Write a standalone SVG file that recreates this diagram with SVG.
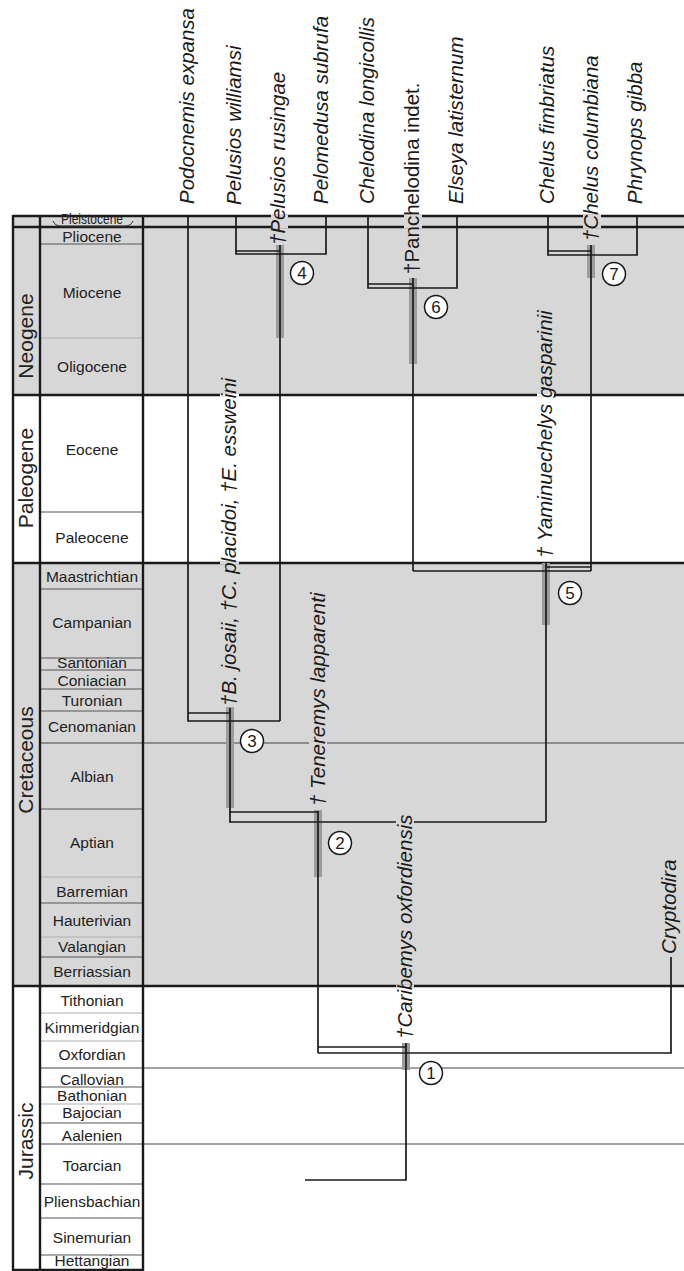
<svg xmlns="http://www.w3.org/2000/svg" width="684" height="1271" viewBox="0 0 684 1271">
<style>
.bg{fill:#d7d7d7}
.thick{stroke:#1a1a1a;stroke-width:2.4;fill:none}
.mid{stroke:#444;stroke-width:1.2;fill:none}
.stg{stroke:#555;stroke-width:1;fill:none}
.faint{stroke:#b0b0b0;stroke-width:1;fill:none}
.bar{fill:#9c9c9c}
.br{stroke:#1a1a1a;stroke-width:1.7;fill:none}
.sp{font-family:"Liberation Sans",Arial,sans-serif;font-style:italic;font-size:20.5px;fill:#1a1a1a}
.st{font-family:"Liberation Sans",Arial,sans-serif;font-size:15.5px;text-anchor:middle;fill:#222}
.per{font-family:"Liberation Sans",Arial,sans-serif;font-size:21px;text-anchor:middle;fill:#222}
.nc{fill:#fff;stroke:#1a1a1a;stroke-width:1.5}
.nt{font-family:"Liberation Sans",Arial,sans-serif;font-size:17px;text-anchor:middle;fill:#1a1a1a}
</style>

<g id="timescale">
  <rect class="bg" x="13" y="216" width="671" height="179"/>
  <rect class="bg" x="13" y="563" width="671" height="423"/>
  <g class="stg">
    <line x1="40" y1="244" x2="143" y2="244"/>
    <line x1="40" y1="512" x2="143" y2="512"/>
    <line x1="40" y1="589" x2="143" y2="589"/>
    <line x1="40" y1="658" x2="143" y2="658"/>
    <line x1="40" y1="670" x2="143" y2="670"/>
    <line x1="40" y1="689" x2="143" y2="689"/>
    <line x1="40" y1="711" x2="143" y2="711"/>
    <line x1="40" y1="809" x2="143" y2="809"/>
    <line x1="40" y1="903" x2="143" y2="903"/>
    <line x1="40" y1="957" x2="143" y2="957"/>
    <line x1="40" y1="1087" x2="143" y2="1087"/>
    <line x1="40" y1="1123" x2="143" y2="1123"/>
    <line x1="40" y1="1184" x2="143" y2="1184"/>
    <line x1="40" y1="1218" x2="143" y2="1218"/>
    <line x1="40" y1="1255" x2="143" y2="1255"/>
  </g>
  <g class="faint">
    <line x1="40" y1="338" x2="143" y2="338"/>
    <line x1="40" y1="877" x2="143" y2="877"/>
    <line x1="40" y1="937" x2="143" y2="937"/>
    <line x1="40" y1="1013" x2="143" y2="1013"/>
    <line x1="40" y1="1041" x2="143" y2="1041"/>
    <line x1="40" y1="1104" x2="143" y2="1104"/>
  </g>
  <g class="mid">
    <line x1="40" y1="743" x2="684" y2="743"/>
    <line x1="40" y1="1068" x2="684" y2="1068"/>
    <line x1="40" y1="1144" x2="684" y2="1144"/>
  </g>
  <g class="thick">
    <line x1="13" y1="216" x2="684" y2="216"/>
    <line x1="13" y1="227" x2="684" y2="227"/>
    <line x1="13" y1="395" x2="684" y2="395"/>
    <line x1="13" y1="563" x2="684" y2="563"/>
    <line x1="13" y1="986" x2="684" y2="986"/>
    <line x1="13" y1="1270" x2="143" y2="1270"/>
    <line x1="13" y1="215" x2="13" y2="1271"/>
    <line x1="40" y1="215" x2="40" y2="1271"/>
    <line x1="143" y1="215" x2="143" y2="1271"/>
  </g>
  <path d="M53 221 Q55 226 61 226 L125 226 Q131 226 133 221" stroke="#333" stroke-width="1" fill="none"/>
  <text class="st" x="92" y="223.5" font-size="9.5px" textLength="62" lengthAdjust="spacingAndGlyphs">Pleistocene</text>
  <text class="st" x="92" y="242">Pliocene</text>
  <text class="st" x="92" y="298">Miocene</text>
  <text class="st" x="92" y="372">Oligocene</text>
  <text class="st" x="92" y="455">Eocene</text>
  <text class="st" x="92" y="543">Paleocene</text>
  <text class="st" x="92" y="582">Maastrichtian</text>
  <text class="st" x="92" y="628">Campanian</text>
  <text class="st" x="92" y="668" font-size="12.5px">Santonian</text>
  <text class="st" x="92" y="686">Coniacian</text>
  <text class="st" x="92" y="706">Turonian</text>
  <text class="st" x="92" y="732">Cenomanian</text>
  <text class="st" x="92" y="782">Albian</text>
  <text class="st" x="92" y="848">Aptian</text>
  <text class="st" x="92" y="897">Barremian</text>
  <text class="st" x="92" y="926">Hauterivian</text>
  <text class="st" x="92" y="952">Valangian</text>
  <text class="st" x="92" y="977">Berriassian</text>
  <text class="st" x="92" y="1006">Tithonian</text>
  <text class="st" x="92" y="1033">Kimmeridgian</text>
  <text class="st" x="92" y="1060">Oxfordian</text>
  <text class="st" x="92" y="1085">Callovian</text>
  <text class="st" x="92" y="1101">Bathonian</text>
  <text class="st" x="92" y="1118">Bajocian</text>
  <text class="st" x="92" y="1141">Aalenien</text>
  <text class="st" x="92" y="1171">Toarcian</text>
  <text class="st" x="92" y="1207">Pliensbachian</text>
  <text class="st" x="92" y="1243">Sinemurian</text>
  <text class="st" x="92" y="1266">Hettangian</text>
  <text class="per" transform="translate(33,336) rotate(-90)">Neogene</text>
  <text class="per" transform="translate(33,478) rotate(-90)">Paleogene</text>
  <text class="per" transform="translate(33,760) rotate(-90)">Cretaceous</text>
  <text class="per" transform="translate(33,1141) rotate(-90)">Jurassic</text>
</g>

<g id="ranges">
  <rect class="bar" x="402" y="1043" width="8" height="27"/>
  <rect class="bar" x="314" y="810" width="8" height="67"/>
  <rect class="bar" x="226" y="707" width="8" height="101"/>
  <rect class="bar" x="276" y="245" width="8" height="93"/>
  <rect class="bar" x="542" y="563" width="8" height="62"/>
  <rect class="bar" x="409" y="278" width="8" height="86"/>
  <rect class="bar" x="587" y="245" width="8" height="33"/>
</g>

<g id="connectors" class="br">
  <path d="M305 1180 H406 V1043"/>
  <path d="M318 1047 H406"/>
  <path d="M318 1053 H671 V957"/>
  <path d="M318 1053 V811"/>
  <path d="M229 812 H318"/>
  <path d="M229 822 H546"/>
  <path d="M230 822 V708"/>
  <path d="M188 713 H230"/>
  <path d="M188 216 V721 H280"/>
  <path d="M280 721 V245"/>
  <path d="M236 216 V254 H326 V216"/>
  <path d="M236 251 H280"/>
  <path d="M546 822 V562"/>
  <path d="M546 567 H591"/>
  <path d="M413 571 H591"/>
  <path d="M413 571 V278"/>
  <path d="M368 216 V288 H457 V216"/>
  <path d="M368 284 H413"/>
  <path d="M591 571 V245"/>
  <path d="M548 216 V255 H637 V216"/>
  <path d="M548 251 H591"/>
</g>

<g id="patches">
  <rect x="271" y="214.5" width="17" height="14" fill="#d7d7d7"/>
  <rect x="404" y="214.5" width="18" height="14" fill="#d7d7d7"/>
  <rect x="583" y="214.5" width="18" height="14" fill="#d7d7d7"/>
  <rect x="537" y="393.5" width="17" height="3" fill="#fff"/>
  <rect x="220" y="393.5" width="19" height="3" fill="#fff"/>
  <rect x="220" y="561.5" width="19" height="3" fill="#d7d7d7"/>
  <rect x="309" y="742" width="18" height="2.5" fill="#d7d7d7"/>
  <rect x="396" y="820.5" width="18" height="3" fill="#d7d7d7"/>
  <rect x="396" y="984.5" width="18" height="3" fill="#d7d7d7"/>
</g>

<g id="taxa">
  <text class="sp" transform="translate(194,204) rotate(-90)">Podocnemis expansa</text>
  <text class="sp" transform="translate(241,205) rotate(-90)">Pelusios williamsi</text>
  <text class="sp" transform="translate(285,245) rotate(-90)">†Pelusios rusingae</text>
  <text class="sp" transform="translate(328,204) rotate(-90)">Pelomedusa subrufa</text>
  <text class="sp" transform="translate(374,204) rotate(-90)">Chelodina longicollis</text>
  <text class="sp" transform="translate(419,274) rotate(-90)"><tspan font-style="normal">†Panchelodina indet.</tspan></text>
  <text class="sp" transform="translate(463,204) rotate(-90)">Elseya latisternum</text>
  <text class="sp" transform="translate(554,204) rotate(-90)">Chelus fimbriatus</text>
  <text class="sp" transform="translate(598,241) rotate(-90)">†Chelus columbiana</text>
  <text class="sp" transform="translate(642,204) rotate(-90)">Phrynops gibba</text>
  <text class="sp" transform="translate(236,706) rotate(-90)">†B. josaii, †C. placidoi, †E. essweini</text>
  <text class="sp" transform="translate(325,806) rotate(-90)">† Teneremys lapparenti</text>
  <text class="sp" transform="translate(552,558) rotate(-90)">† Yaminuechelys gasparinii</text>
  <text class="sp" transform="translate(412,1039) rotate(-90)">†Caribemys oxfordiensis</text>
  <text class="sp" transform="translate(676,954) rotate(-90)">Cryptodira</text>
</g>

<g id="node1"><circle class="nc" cx="431" cy="1073" r="11.5"/><text class="nt" x="431" y="1079">1</text></g>
<g id="node2"><circle class="nc" cx="340" cy="843" r="11.5"/><text class="nt" x="340" y="849">2</text></g>
<g id="node3"><circle class="nc" cx="252" cy="741" r="11.5"/><text class="nt" x="252" y="747">3</text></g>
<g id="node4"><circle class="nc" cx="302" cy="273" r="11.5"/><text class="nt" x="302" y="279">4</text></g>
<g id="node5"><circle class="nc" cx="570" cy="593" r="11.5"/><text class="nt" x="570" y="599">5</text></g>
<g id="node6"><circle class="nc" cx="436" cy="307" r="11.5"/><text class="nt" x="436" y="313">6</text></g>
<g id="node7"><circle class="nc" cx="614" cy="274" r="11.5"/><text class="nt" x="614" y="280">7</text></g>
</svg>
